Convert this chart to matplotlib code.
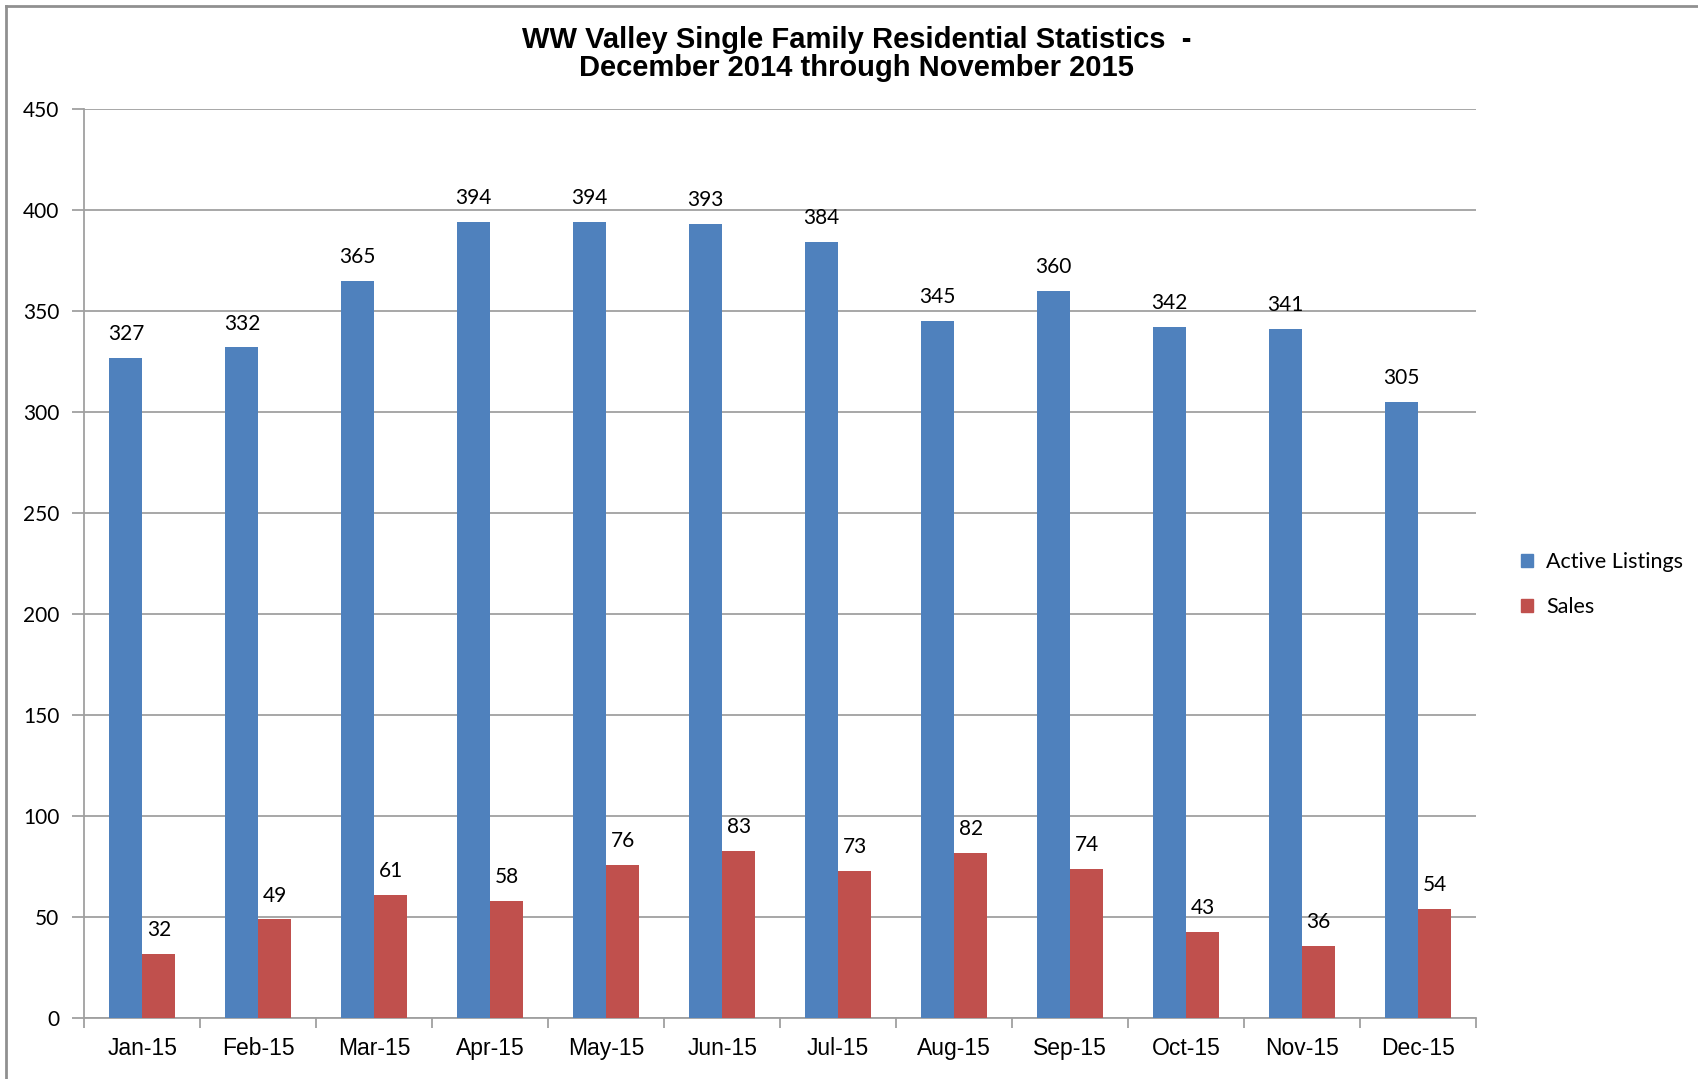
import matplotlib
matplotlib.use("Agg")
import matplotlib.pyplot as plt
import numpy as np
from matplotlib.lines import Line2D
from matplotlib.patches import Patch

months = ["Jan-15", "Feb-15", "Mar-15", "Apr-15", "May-15", "Jun-15",
          "Jul-15", "Aug-15", "Sep-15", "Oct-15", "Nov-15", "Dec-15"]
active_listings = [327, 332, 365, 394, 394, 393, 384, 345, 360, 342, 341, 305]
sales = [32, 49, 61, 58, 76, 83, 73, 82, 74, 43, 36, 54]
yticks = [0, 50, 100, 150, 200, 250, 300, 350, 400, 450]

BLUE = "#4F81BD"
RED = "#C0504D"
GRID = "#A0A0A0"
LBL_FONT = ["Lato", "DejaVu Sans"]
AX_FONT = ["Liberation Sans", "DejaVu Sans"]

fig = plt.figure(figsize=(16.99, 10.79), dpi=100)
ax = fig.add_axes([0.0497, 0.0561, 0.8190, 0.8429])

x = np.arange(len(months))
w = 0.285
b1 = ax.bar(x - w / 2, active_listings, w, color=BLUE, label="Active Listings", zorder=3)
b2 = ax.bar(x + w / 2, sales, w, color=RED, label="Sales", zorder=3)

for rect, v in zip(b1, active_listings):
    ax.annotate(str(v), (rect.get_x() + rect.get_width() / 2, v), xytext=(0, 10),
                textcoords="offset points", ha="center", va="bottom",
                fontsize=15, family=LBL_FONT)
for rect, v in zip(b2, sales):
    ax.annotate(str(v), (rect.get_x() + rect.get_width() / 2, v), xytext=(0, 10),
                textcoords="offset points", ha="center", va="bottom",
                fontsize=15, family=LBL_FONT)

ax.set_xlim(-0.5, len(months) - 0.5)
ax.set_ylim(0, 450)
ax.set_yticks(yticks)
ax.set_yticklabels([str(t) for t in yticks], fontsize=15, family=LBL_FONT)
ax.yaxis.grid(True, color=GRID, linewidth=1.3, zorder=0)
ax.set_axisbelow(True)

ax.set_xticks(x)
ax.set_xticklabels(months, fontsize=16.5, family=AX_FONT)
ax.tick_params(axis="x", which="major", length=0, pad=13)
ax.set_xticks(np.arange(-0.5, len(months), 1.0), minor=True)
ax.tick_params(axis="x", which="minor", length=7, color=GRID, width=1.3, direction="out")
ax.tick_params(axis="y", length=9, color=GRID, width=1.3, pad=9, direction="out")

for s in ["top", "right"]:
    ax.spines[s].set_visible(False)
for s in ["left", "bottom"]:
    ax.spines[s].set_color(GRID)
    ax.spines[s].set_linewidth(1.3)

fig.text(0.504, 0.963, "WW Valley Single Family Residential Statistics  -",
         ha="center", va="center", fontsize=21, fontweight="bold", family=AX_FONT)
fig.text(0.504, 0.937, "December 2014 through November 2015",
         ha="center", va="center", fontsize=21, fontweight="bold", family=AX_FONT)

handles = [Patch(color=BLUE), Patch(color=RED)]
fig.legend(handles, ["Active Listings", "Sales"], loc="center left",
           bbox_to_anchor=(0.884, 0.458), frameon=False,
           prop={"family": LBL_FONT, "size": 15.5},
           handlelength=0.55, handleheight=0.55, handletextpad=0.6, labelspacing=1.15)

fig.add_artist(Line2D([0.0035, 1.0], [0.9945, 0.9945], transform=fig.transFigure,
                      color="#909090", linewidth=2))
fig.add_artist(Line2D([0.0035, 0.0035], [0.0, 0.9945], transform=fig.transFigure,
                      color="#909090", linewidth=2))

fig.savefig("out.png", dpi=100)
